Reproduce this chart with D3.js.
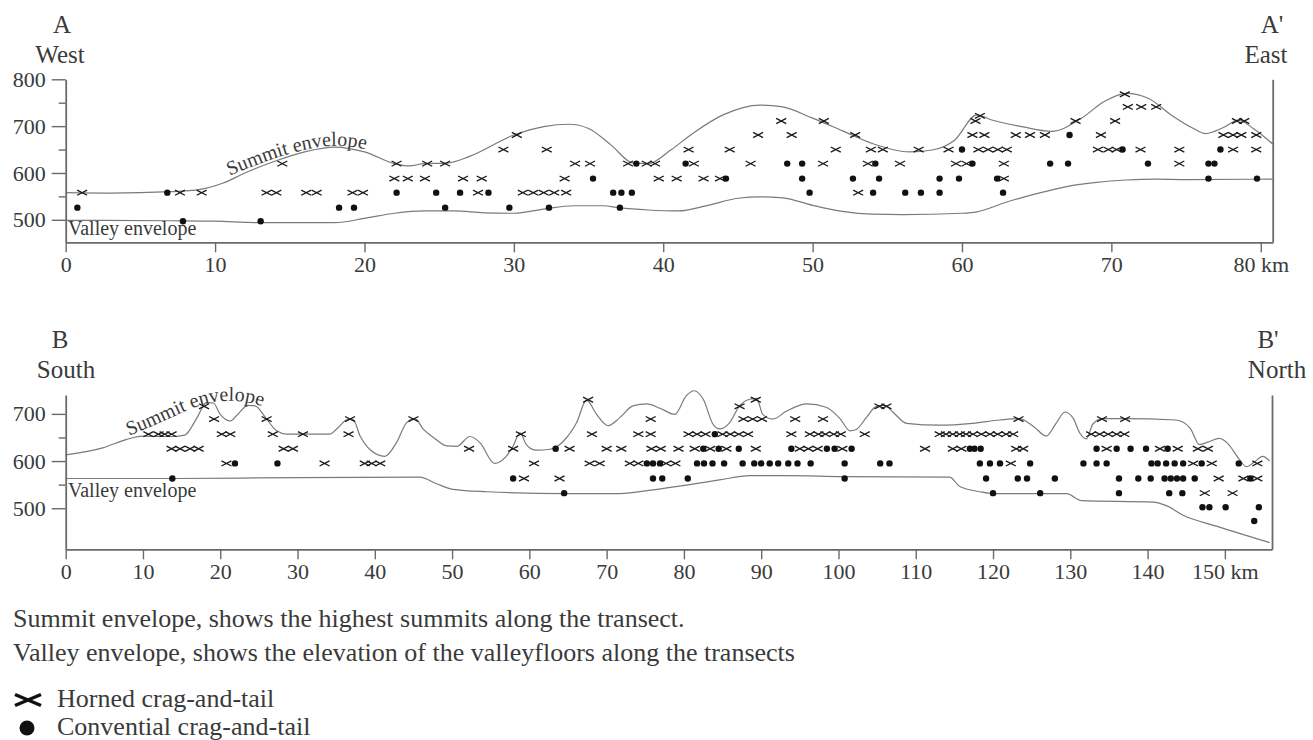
<!DOCTYPE html>
<html>
<head>
<meta charset="utf-8">
<script src="https://cdn.jsdelivr.net/npm/d3@7"></script>
<style>
  body { margin: 0; background: #fff; }
  text { font-family: "Liberation Serif", "DejaVu Serif", serif; fill: #3a3a3a; }
</style>
</head>
<body>
<div id="chart"></div>
<script>
/* Transects A-A' and B-B': summit / valley envelopes and crag-and-tail elevations */

// ---- data (km along transect, elevation m) ----
const topXTicks = [0, 10, 20, 30, 40, 50, 60, 70, 80];
const bottomXTicks = [0, 10, 20, 30, 40, 50, 60, 70, 80, 90, 100, 110, 120, 130, 140, 150];
const topYTicks = [500, 600, 700, 800], topYMinor = [550, 650, 750];
const bottomYTicks = [500, 600, 700], bottomYMinor = [550, 650];

const topSummit = [[0,558],[3,557],[7,560],[9,565],[10.5,578],[12,600],[14,625],[16,645],[18,655],[19,652],[20,645],
  [22,620],[23,615],[24,620],[25.5,621],[27,635],[30,681],[32,699],[33.7,704],[35,695],[36.5,660],[38,621],[39,620],
  [40.5,649],[42,685],[44,724],[46.5,745],[48,741],[50,717],[52,690],[54,663],[56.5,645],[58,649],[59.5,670],[61,724],
  [62,713],[64,699],[66,689],[68,717],[69.5,752],[71,770],[72.5,759],[74,724],[75.5,695],[76.3,684],[77.5,697],
  [78.5,713],[79.5,695],[80.8,662]];
const topValley = [[0,499],[7,498],[10,497],[13,494],[18,494],[20,503],[22,514],[24,519],[26,519],[28,515],[30,514],
  [32,523],[34,530],[36,530],[37,526],[39,521],[41,519],[43,531],[45,546],[46.5,549],[48,547],[50,531],[52,518],
  [54,512],[56,511],[60,514],[61,517],[63,538],[65,556],[67,571],[69,580],[71,585],[73,587],[75,586],[80.8,587]];

const bottomSummit = [[0,613],[4.8,628],[7.9,646],[10,653],[13.9,652],[15.4,655],[17,692],[18.2,724],[19.1,723],
  [20,699],[21.3,685],[22.1,696],[23.6,718],[24.5,717],[26,689],[27.3,664],[28.6,657],[34.2,657],[35,667],[36.6,689],
  [37.2,688],[38.1,653],[39.4,624],[41.3,610],[42.8,639],[44.1,681],[45.2,690],[46.3,667],[47.6,650],[49.3,632],
  [50.6,631],[52.3,652],[53.6,639],[55.5,595],[57,610],[57.9,632],[58.8,660],[59.6,635],[60.9,623],[62.7,625],
  [64.4,642],[66.1,681],[67.4,729],[68.7,699],[70.2,675],[71.7,692],[73.4,717],[75.2,721],[76.9,712],[78.8,699],
  [80.3,738],[81.3,749],[82.5,731],[83.8,677],[84.6,668],[85.9,681],[87.2,717],[88.5,731],[89.4,733],[90.2,699],
  [91.5,689],[93.3,706],[95.9,721],[98.4,714],[100.2,690],[101.5,664],[102.3,667],[103.6,692],[104.9,716],[106,718],
  [107.1,703],[108.8,680],[113.1,676],[117.4,680],[120.9,687],[123.4,690],[125.2,674],[126.9,653],[128.2,681],
  [129.3,704],[130.4,690],[131.2,660],[132.1,647],[132.9,678],[134.2,690],[136.8,690],[143.7,687],[145.5,670],
  [146.7,635],[147.8,640],[149.3,648],[150.5,635],[151.8,605],[152.8,588],[153.8,598],[154.9,610],[155.8,600]];
const bottomValley = [[0,563],[14,563],[30,565],[45.8,566],[48,552],[50.1,540],[54.5,535],[64.5,531],[71.7,531],
  [76,539],[80.3,549],[84.6,560],[88.5,569],[93.3,569],[100.6,567],[114.4,566],[115.7,546],[118.3,535],[120,531],
  [129.5,531],[131.5,516],[140.7,513],[142.5,505],[144.6,485],[148.9,462],[155.8,427]];

// crag-and-tail observations, grouped by elevation row: [elevation, [km, ...]]
const topHorned = [
  [558, [1.1, 7.65, 9.1, 13.45, 14.1, 16.1, 16.8, 19.2, 19.9, 27.6, 30.6, 31.3, 32.0, 32.7, 33.5, 53.05]],
  [588, [22.0, 22.9, 24.05, 26.6, 27.85, 33.4, 39.7, 40.9, 42.7, 43.8, 62.8]],
  [620, [14.5, 22.15, 24.2, 25.4, 34.1, 35.1, 37.65, 38.9, 39.45, 42.05, 45.85, 50.7, 53.7, 55.85, 59.6, 60.3, 62.8, 74.55]],
  [650, [29.3, 32.2, 41.7, 44.45, 51.55, 53.9, 54.7, 57.1, 59.1, 61.1, 61.75, 62.4, 63.0, 69.1, 69.8, 70.35, 71.95, 74.55, 78.15, 79.7]],
  [681, [30.2, 46.35, 48.6, 52.85, 60.7, 61.5, 63.6, 64.55, 65.55, 69.3, 77.5, 78.15, 78.7, 79.7]],
  [711, [47.9, 50.75, 60.9, 67.6, 70.25, 78.4, 78.9]],
  [722, [61.2]],
  [741, [71.1, 72.0, 73.0]],
  [768, [70.9]]
];
const topConventional = [
  [497, [7.85, 13.05]],
  [526, [0.78, 18.3, 19.3, 25.4, 29.7, 32.35, 37.1]],
  [558, [6.8, 22.15, 24.8, 26.4, 28.3, 36.65, 37.2, 37.9, 49.8, 54.05, 56.2, 57.25, 58.5, 62.75]],
  [588, [35.3, 44.2, 49.3, 52.7, 54.45, 58.5, 59.8, 62.35, 76.5, 79.75]],
  [620, [38.2, 41.5, 48.3, 49.3, 54.2, 60.7, 65.9, 67.1, 72.45, 76.5, 76.9]],
  [650, [60.0, 70.75, 77.3]],
  [681, [67.2]]
];
const bottomHorned = [
  [730, [67.6, 89.3]],
  [716, [17.9, 87.2, 105.3, 106.2]],
  [689, [19.2, 26.0, 36.8, 45.0, 75.7, 87.7, 88.9, 90.1, 94.4, 98.0, 123.3, 134.1, 137.1]],
  [657, [10.7, 12.0, 12.8, 13.7, 20.2, 21.3, 26.8, 30.7, 36.6, 58.9, 68.1, 74.1, 75.7, 80.6, 81.7, 82.8, 85.0, 86.0,
         87.1, 88.3, 93.9, 96.3, 97.4, 98.3, 99.4, 100.3, 103.4, 113.1, 113.9, 114.8, 115.7, 116.5, 117.4, 118.5, 119.6,
         120.6, 121.7, 122.6, 132.7, 133.8, 134.9, 136.0, 137.0]],
  [626, [13.7, 14.8, 16.1, 17.2, 28.2, 29.4, 52.2, 57.9, 65.2, 70.0, 71.9, 75.8, 77.0, 79.3, 81.4, 83.4, 85.5, 89.3,
         95.0, 96.1, 97.3, 100.5, 111.2, 114.8, 115.9, 123.0, 123.9, 134.7, 141.6, 143.9, 146.5, 147.8]],
  [595, [20.8, 33.5, 38.7, 39.6, 40.7, 60.6, 67.8, 69.1, 73.0, 74.1, 77.7, 78.9, 122.3, 145.9, 148.3, 154.2]],
  [563, [59.3, 63.9, 149.2, 152.4, 154.2]],
  [532, [147.4, 151.0]]
];
const bottomConventional = [
  [657, [84.0]],
  [626, [63.4, 82.5, 84.5, 87.1, 93.9, 98.5, 99.5, 101.7, 117.0, 117.6, 118.4, 133.4, 136.0, 137.8, 139.8, 142.6]],
  [595, [21.9, 27.4, 75.2, 76.0, 76.9, 81.7, 82.6, 83.7, 85.2, 87.6, 89.1, 90.0, 91.1, 92.2, 93.5, 94.7, 96.4, 100.8,
         105.4, 106.6, 118.3, 119.6, 120.9, 124.8, 131.7, 133.4, 134.7, 140.5, 141.3, 142.4, 143.5, 144.6, 147.0, 151.8]],
  [563, [13.8, 57.9, 76.0, 77.2, 80.5, 100.8, 119.1, 123.2, 124.4, 128.0, 136.3, 138.8, 140.4, 142.2, 143.0, 143.8,
         144.6, 146.1, 153.3]],
  [532, [64.5, 120.0, 126.1, 136.3, 142.8, 144.5]],
  [502, [147.1, 148.0, 150.1, 154.4]],
  [473, [153.8]]
];

// guide lines for the curved "Summit envelope" labels
const topLabelGuide = [[11.0, 594], [12.5, 614], [14, 632], [16, 651], [18, 661], [20, 653], [21.5, 636]];
const bottomLabelGuide = [[8.2, 654], [11, 672], [14, 695], [17, 717], [20, 729], [23.5, 727], [27, 708]];

const notes = ["Summit envelope, shows the highest summits along the transect.",
               "Valley envelope, shows the elevation of the valleyfloors along the transects"];
const legendItems = ["Horned crag-and-tail", "Convential crag-and-tail"];

// ---- chart ----
const width = 1313, height = 740;

const svg = d3.select("#chart")
  .append("svg")
  .attr("width", width)
  .attr("height", height)
  .attr("viewBox", [0, 0, width, height]);

const flat = rows => rows.flatMap(([e, kms]) => kms.map(k => [k, e]));
const crossPath = "M-5,-2.6L5,2.6M-5,2.6L5,-2.6";

function drawPanel(p, id) {
  const x = d3.scaleLinear().domain([0, p.kmMax]).range([65.7, p.right]);
  const y = d3.scaleLinear().domain([p.elevMin, p.elevMax]).range([p.bottom, p.top]);
  const g = svg.append("g");

  // envelopes
  const line = d3.line().x(d => x(d[0])).y(d => y(d[1])).curve(d3.curveMonotoneX);
  [p.summit, p.valley].forEach(data => {
    g.append("path")
      .datum(data)
      .attr("d", line)
      .attr("fill", "none")
      .attr("stroke", "#7a7a7a")
      .attr("stroke-width", 1.2);
  });

  // left axis with major + minor ticks
  g.append("g")
    .attr("transform", `translate(${x(0)},0)`)
    .call(d3.axisLeft(y).tickValues(p.yTicks).tickSize(14).tickPadding(6).tickSizeOuter(0));
  g.append("g")
    .attr("transform", `translate(${x(0)},0)`)
    .call(d3.axisLeft(y).tickValues(p.yMinor).tickSize(7).tickFormat("").tickSizeOuter(0))
    .select(".domain").remove();
  // right edge
  g.append("g")
    .attr("transform", `translate(${x(p.kmMax)},0)`)
    .call(d3.axisRight(y).tickValues([]).tickSizeOuter(0));
  // bottom axis
  const last = p.xTicks[p.xTicks.length - 1];
  g.append("g")
    .attr("transform", `translate(0,${p.bottom})`)
    .call(d3.axisBottom(x).tickValues(p.xTicks).tickSize(10).tickPadding(4).tickSizeOuter(0)
      .tickFormat(d => d === last ? d + " km" : d));

  g.selectAll(".domain").attr("stroke", "#6a6a6a").attr("stroke-width", 1.8);
  g.selectAll(".tick line").attr("stroke", "#6a6a6a").attr("stroke-width", 1.4);
  g.selectAll(".tick text")
    .attr("fill", "#444")
    .style("font-family", '"Liberation Serif", serif')
    .style("font-size", "22px");

  // markers
  g.append("g").selectAll("path")
    .data(flat(p.horned))
    .join("path")
    .attr("transform", d => `translate(${x(d[0])},${y(d[1])})`)
    .attr("d", crossPath)
    .attr("fill", "none")
    .attr("stroke", "#1a1a1a")
    .attr("stroke-width", 1.3);

  g.append("g").selectAll("circle")
    .data(flat(p.conventional))
    .join("circle")
    .attr("cx", d => x(d[0]))
    .attr("cy", d => y(d[1]))
    .attr("r", 3.2)
    .attr("fill", "#111");

  // end labels
  g.append("text").attr("x", p.leftLabelX[0]).attr("y", p.titleY).attr("text-anchor", "middle")
    .style("font-size", "25px").text(p.names[0]);
  g.append("text").attr("x", p.leftLabelX[1]).attr("y", p.titleY + 30).attr("text-anchor", "middle")
    .style("font-size", "25px").text(p.names[1]);
  g.append("text").attr("x", p.rightLabelX[0]).attr("y", p.titleY).attr("text-anchor", "middle")
    .style("font-size", "25px").text(p.names[2]);
  g.append("text").attr("x", p.rightLabelX[1]).attr("y", p.titleY + 30).attr("text-anchor", "middle")
    .style("font-size", "25px").text(p.names[3]);

  // envelope labels
  g.append("text").attr("x", 68).attr("y", p.valleyLabelY)
    .style("font-size", "20px").text("Valley envelope");

  g.append("path")
    .attr("id", id)
    .datum(p.labelGuide)
    .attr("d", d3.line().x(d => x(d[0])).y(d => y(d[1])).curve(d3.curveBasis))
    .attr("fill", "none");
  g.append("text")
    .style("font-size", "20px")
    .append("textPath")
    .attr("href", "#" + id)
    .text("Summit envelope");
}

drawPanel({
  kmMax: 80.8, right: 1272.7, elevMin: 452, elevMax: 800, top: 79.3, bottom: 242.3,
  xTicks: topXTicks, yTicks: topYTicks, yMinor: topYMinor,
  summit: topSummit, valley: topValley, horned: topHorned, conventional: topConventional,
  names: ["A", "West", "A'", "East"], titleY: 33, leftLabelX: [62, 60], rightLabelX: [1272, 1266],
  valleyLabelY: 235, labelGuide: topLabelGuide
}, "guideA");

drawPanel({
  kmMax: 156.1, right: 1272, elevMin: 413, elevMax: 740, top: 395, bottom: 549.3,
  xTicks: bottomXTicks, yTicks: bottomYTicks, yMinor: bottomYMinor,
  summit: bottomSummit, valley: bottomValley, horned: bottomHorned, conventional: bottomConventional,
  names: ["B", "South", "B'", "North"], titleY: 348, leftLabelX: [60, 66], rightLabelX: [1268, 1277],
  valleyLabelY: 497, labelGuide: bottomLabelGuide
}, "guideB");

// notes and legend
svg.selectAll(".note")
  .data(notes)
  .join("text")
  .attr("class", "note")
  .attr("x", 13)
  .attr("y", (d, i) => 627 + i * 34)
  .style("font-size", "26px")
  .text(d => d);

const legend = svg.append("g");
legend.append("path")
  .attr("transform", "translate(28,700)")
  .attr("d", "M-13,-5.5L13,5.5M-13,5.5L13,-5.5")
  .attr("fill", "none")
  .attr("stroke", "#111")
  .attr("stroke-width", 3.5);
legend.append("circle")
  .attr("cx", 27).attr("cy", 728).attr("r", 7.5).attr("fill", "#111");
legend.selectAll("text")
  .data(legendItems)
  .join("text")
  .attr("x", 57)
  .attr("y", (d, i) => 707 + i * 28)
  .style("font-size", "26px")
  .text(d => d);
</script>
</body>
</html>
